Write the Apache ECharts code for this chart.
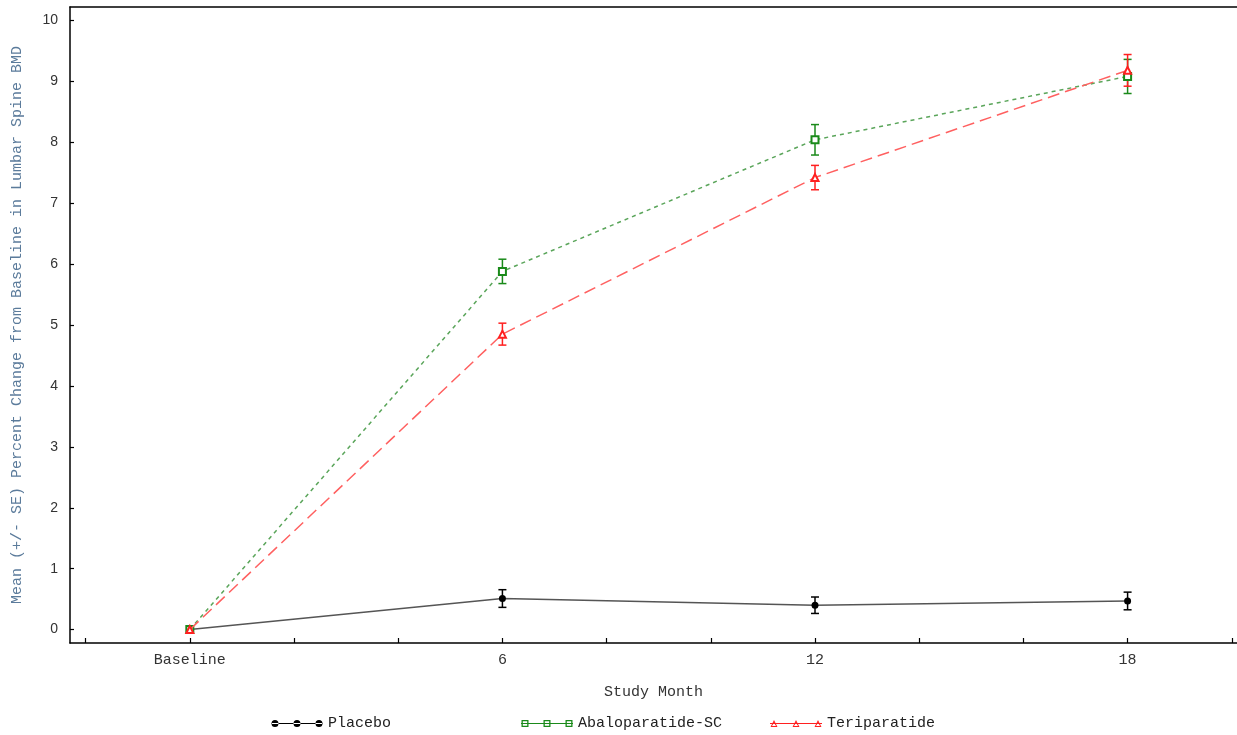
<!DOCTYPE html>
<html>
<head>
<meta charset="utf-8">
<title>Lumbar Spine BMD</title>
<script src="https://cdn.jsdelivr.net/npm/echarts@6/dist/echarts.min.js"></script>
<style>
  html, body { margin: 0; padding: 0; background: #fff; }
  #chart { width: 1237px; height: 735px; }
</style>
</head>
<body>
<div id="chart"></div>
<script>
// study months (0 = Baseline)
var months = [0, 6, 12, 18];
var xTicks = [-2, 0, 2, 4, 6, 8, 10, 12, 14, 16, 18, 20];
var xLabels = [0, 6, 12, 18];
var yLabels = [0, 1, 2, 3, 4, 5, 6, 7, 8, 9, 10];

// mean percent change and SE
var placeboMean = [0, 0.51, 0.40, 0.47];
var placeboSE = [0, 0.145, 0.135, 0.145];
var abaloMean = [0, 5.88, 8.04, 9.08];
var abaloSE = [0, 0.20, 0.25, 0.28];
var teriMean = [0, 4.85, 7.42, 9.18];
var teriSE = [0, 0.18, 0.20, 0.26];

var monoFont = '"Liberation Mono", "DejaVu Sans Mono", monospace';

var myChart = echarts.init(document.getElementById('chart'));

function pairs(means) {
    return months.map(function (m, i) { return [m, means[i]]; });
}

function errorBars(name, color, means, ses) {
    return {
        type: 'custom',
        name: name,
        z: 1,
        encode: {x: 0, y: [1, 2]},
        data: months.map(function (m, i) { return [m, means[i] - ses[i], means[i] + ses[i]]; }),
        renderItem: function (params, api) {
            var lo = api.coord([api.value(0), api.value(1)]);
            var hi = api.coord([api.value(0), api.value(2)]);
            if (Math.abs(lo[1] - hi[1]) < 0.5) return null;
            var w = 4;
            var st = {stroke: color, lineWidth: 1.5};
            return {
                type: 'group',
                children: [
                    {type: 'line', shape: {x1: hi[0], y1: hi[1], x2: lo[0], y2: lo[1]}, style: st},
                    {type: 'line', shape: {x1: hi[0] - w, y1: hi[1], x2: hi[0] + w, y2: hi[1]}, style: st},
                    {type: 'line', shape: {x1: lo[0] - w, y1: lo[1], x2: lo[0] + w, y2: lo[1]}, style: st}
                ]
            };
        }
    };
}

var lineBar = 'M0,3.4h52v1.2h-52z';
function circ(x) {
    return 'M' + x + ',4a3.5,3.5 0 1,0 7,0a3.5,3.5 0 1,0 -7,0z';
}
function hollowSquare(x) {
    return 'M' + x + ',0.5h7v7h-7z M' + (x + 1.3) + ',1.8v4.4h4.4v-4.4z';
}
function hollowTri(x) {
    return 'M' + (x + 3.5) + ',0.5L' + (x + 7) + ',7.5H' + x + 'z M' + (x + 3.5) + ',2.9L' + (x + 1.5) + ',6.4H' + (x + 5.5) + 'z';
}
var iconPlacebo = 'path://' + lineBar + ' ' + circ(0.5) + ' ' + circ(22.5) + ' ' + circ(44.5);
var iconAbalo = 'path://' + lineBar + ' ' + hollowSquare(0.5) + ' ' + hollowSquare(22.5) + ' ' + hollowSquare(44.5);
var iconTeri = 'path://' + lineBar + ' ' + hollowTri(0.5) + ' ' + hollowTri(22.5) + ' ' + hollowTri(44.5);

function legendAt(left, name, icon, color) {
    return {
        left: left,
        top: 711,
        itemWidth: 52,
        itemHeight: 8,
        itemGap: 10,
        icon: icon,
        data: [name],
        itemStyle: {color: color, borderWidth: 0},
        textStyle: {fontFamily: monoFont, fontSize: 15, color: '#222'}
    };
}

var option = {
    animation: false,
    backgroundColor: '#fff',
    grid: {left: 70, right: 0, top: 7, bottom: 92, outerBoundsMode: 'none'},
    legend: [
        legendAt(266, 'Placebo', iconPlacebo, '#000'),
        legendAt(516, 'Abaloparatide-SC', iconAbalo, '#1a8a1a'),
        legendAt(765, 'Teriparatide', iconTeri, '#ff2020')
    ],
    xAxis: [
        {
            type: 'value',
            min: -2.3,
            max: 20.1,
            name: 'Study Month',
            nameLocation: 'middle',
            nameGap: 42,
            nameTextStyle: {fontFamily: monoFont, fontSize: 15, color: '#333'},
            axisLine: {onZero: false, lineStyle: {color: '#000', width: 1.5}},
            axisTick: {inside: true, length: 5, customValues: xTicks, lineStyle: {color: '#000', width: 1.2}},
            axisLabel: {
                customValues: xLabels,
                margin: 10,
                fontFamily: monoFont,
                fontSize: 15,
                color: '#333',
                formatter: function (v) { return v === 0 ? 'Baseline' : String(v); }
            },
            splitLine: {show: false}
        },
        {
            type: 'value',
            position: 'top',
            min: -2.3,
            max: 20.1,
            axisLine: {show: true, onZero: false, lineStyle: {color: '#000', width: 1.5}},
            axisTick: {show: false},
            axisLabel: {show: false},
            splitLine: {show: false}
        }
    ],
    yAxis: {
        type: 'value',
        min: -0.22,
        max: 10.22,
        name: 'Mean (+/- SE) Percent Change from Baseline in Lumbar Spine BMD',
        nameLocation: 'middle',
        nameRotate: 90,
        nameGap: 45,
        nameTextStyle: {fontFamily: monoFont, fontSize: 15, color: '#5b7b9b'},
        axisLine: {show: true, onZero: false, lineStyle: {color: '#000', width: 1.5}},
        axisTick: {inside: true, length: 4, customValues: yLabels, lineStyle: {color: '#000', width: 1.2}},
        axisLabel: {
            customValues: yLabels,
            margin: 12,
            fontFamily: '"Liberation Sans", Arial, sans-serif',
            fontSize: 14,
            color: '#333'
        },
        splitLine: {show: false}
    },
    series: [
        errorBars('Placebo', '#000', placeboMean, placeboSE),
        errorBars('Abaloparatide-SC', '#1a8a1a', abaloMean, abaloSE),
        errorBars('Teriparatide', '#ff2020', teriMean, teriSE),
        {
            type: 'line',
            name: 'Placebo',
            data: pairs(placeboMean),
            symbol: 'circle',
            symbolSize: 7,
            z: 3,
            itemStyle: {color: '#000'},
            lineStyle: {color: '#555', width: 1.5}
        },
        {
            type: 'line',
            name: 'Abaloparatide-SC',
            data: pairs(abaloMean),
            symbol: 'emptyRect',
            symbolSize: 7,
            z: 4,
            itemStyle: {color: '#1a8a1a', borderWidth: 1.3},
            lineStyle: {color: '#5aa55a', width: 1.5, type: [4, 4]}
        },
        {
            type: 'line',
            name: 'Teriparatide',
            data: pairs(teriMean),
            symbol: 'emptyTriangle',
            symbolSize: 7,
            z: 5,
            itemStyle: {color: '#ff2020', borderWidth: 1.3},
            lineStyle: {color: '#ff6060', width: 1.5, type: [12, 6]}
        }
    ]
};

myChart.setOption(option);
</script>
</body>
</html>
